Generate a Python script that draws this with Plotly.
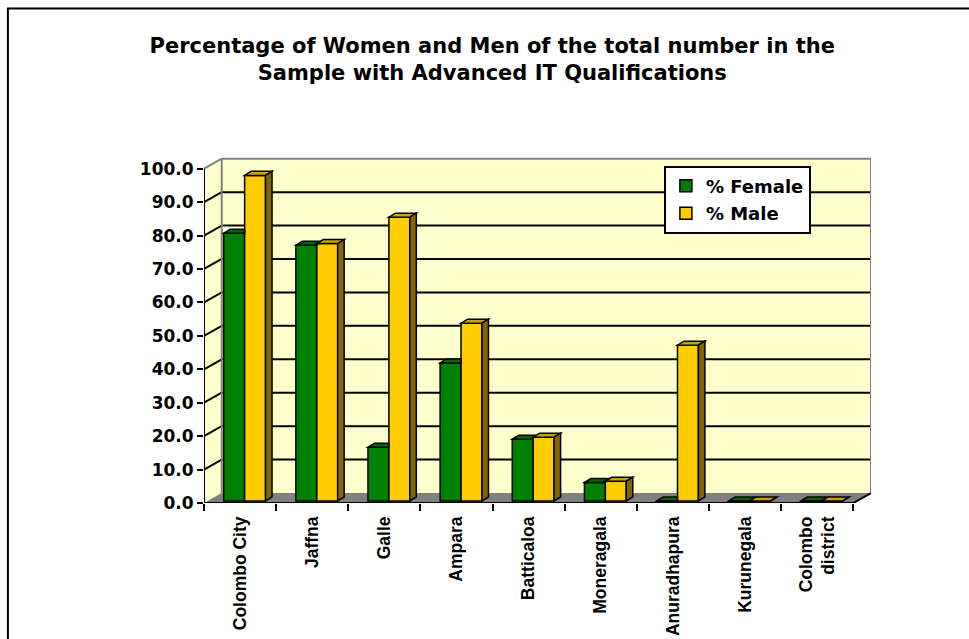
import plotly.graph_objects as go

# ---- data -------------------------------------------------------------
categories = ["Colombo City", "Jaffna", "Galle", "Ampara", "Batticaloa",
              "Moneragala", "Anuradhapura", "Kurunegala", "Colombo<br>district"]
pct_female = [80.1, 76.5, 16.1, 41.3, 18.5, 5.5, 0.0, 0.0, 0.0]
pct_male = [97.4, 77.0, 84.9, 53.2, 19.1, 5.9, 46.6, 0.0, 0.0]
y_ticks = [0, 10, 20, 30, 40, 50, 60, 70, 80, 90, 100]

# ---- styling ----------------------------------------------------------
FONT = "DejaVu Sans"
LABEL_FONT = "Liberation Sans"
GREEN, GREEN_TOP, GREEN_SIDE = "#008000", "#006600", "#004d00"
GOLD, GOLD_TOP, GOLD_SIDE = "#FFCC00", "#CCA300", "#806600"
WALL, FLOOR, EDGE = "#FFFFCC", "#808080", "#808080"

# pseudo-3D projection, in axis units (x: category index, y: value)
DX, DY = 0.2455, 2.99       # depth of floor and walls
BASE = 0.6                  # bar front faces sit a little behind the front edge
BDX, BDY = 0.09, 1.2        # depth of each bar
BW = 0.29                   # bar width
F_OFF = -0.227              # female bar offset from category centre
M_OFF = F_OFF + BW          # male bar sits right next to it
X_LO, X_HI = -0.5, len(categories) - 0.5
Y_MAX = max(y_ticks)


def path(pts):
    return "M " + " L ".join(f"{x},{y}" for x, y in pts) + " Z"


def poly(pts, fill, line="black", width=1.5, layer="above"):
    return dict(type="path", path=path(pts), xref="x", yref="y",
                fillcolor=fill, line=dict(color=line, width=width), layer=layer)


def seg(x0, y0, x1, y1, color="black", width=2, layer="below"):
    return dict(type="line", x0=x0, y0=y0, x1=x1, y1=y1, xref="x", yref="y",
                line=dict(color=color, width=width), layer=layer)


shapes = []

# walls and floor
shapes.append(poly([(X_LO, 0), (X_LO + DX, DY), (X_LO + DX, Y_MAX + DY), (X_LO, Y_MAX)],
                   WALL, line=WALL, width=0, layer="below"))
shapes.append(poly([(X_LO + DX, DY), (X_HI + DX, DY), (X_HI + DX, Y_MAX + DY), (X_LO + DX, Y_MAX + DY)],
                   WALL, line=WALL, width=0, layer="below"))
shapes.append(poly([(X_LO, 0), (X_HI, 0), (X_HI + DX, DY), (X_LO + DX, DY)],
                   FLOOR, line=FLOOR, width=0, layer="below"))

# gridlines on the side and back walls
for v in y_ticks[1:-1]:
    shapes.append(seg(X_LO, v, X_LO + DX, v + DY, width=2))
    shapes.append(seg(X_LO + DX, v + DY, X_HI + DX, v + DY, width=2))

# wall edges
shapes.append(seg(X_LO, Y_MAX, X_LO + DX, Y_MAX + DY, color=EDGE))
shapes.append(seg(X_LO + DX, DY, X_LO + DX, Y_MAX + DY, color=EDGE))
shapes.append(seg(X_LO + DX, Y_MAX + DY, X_HI + DX, Y_MAX + DY, color=EDGE))
shapes.append(seg(X_HI + DX, Y_MAX + DY, X_HI + DX, DY, color=EDGE))

# axis lines along the front of the floor
shapes.append(seg(X_LO, 0, X_LO, Y_MAX))
shapes.append(seg(X_LO, 0, X_HI, 0))
shapes.append(seg(X_HI, 0, X_HI + DX, DY))

# top and side faces of the bars
for i, (f, m) in enumerate(zip(pct_female, pct_male)):
    xf0 = i + F_OFF
    xf1 = xf0 + BW
    xm0 = i + M_OFF
    xm1 = xm0 + BW
    tf = BASE + f
    tm = BASE + m

    # female top, trimmed where the male front face hides it
    A, B, C, D = (xf0, tf), (xf1, tf), (xf1 + BDX, tf + BDY), (xf0 + BDX, tf + BDY)
    if tm <= tf:
        top_f = [A, B, C, D]
    elif tm >= tf + BDY:
        top_f = [A, B, (xf1, tf + BDY), D]
    else:
        top_f = [A, B, (xf1, tm), (xf1 + BDX * (tm - tf) / BDY, tm), C, D]
    shapes.append(poly(top_f, GREEN_TOP))

    # female side, only the part standing above the male bar
    if tf > tm:
        shapes.append(poly([(xf1, tm), (xf1, tf), (xf1 + BDX, tf + BDY), (xf1 + BDX, tm)],
                           GREEN_SIDE))

    # male top and side
    shapes.append(poly([(xm0, tm), (xm1, tm), (xm1 + BDX, tm + BDY), (xm0 + BDX, tm + BDY)],
                       GOLD_TOP))
    shapes.append(poly([(xm1, BASE), (xm1, tm), (xm1 + BDX, tm + BDY), (xm1 + BDX, BASE + BDY)],
                       GOLD_SIDE))

# outer frame of the chart
shapes.append(dict(type="rect", xref="paper", yref="paper",
                   x0=-0.294, y0=-0.45, x1=1.2, y1=1.4294,
                   line=dict(color="black", width=2), fillcolor="rgba(0,0,0,0)",
                   layer="below"))

fig = go.Figure()
fig.add_trace(go.Bar(
    x=categories, y=pct_female, base=BASE, offset=F_OFF, width=BW,
    name="% Female", legendgroup="f",
    marker=dict(color=GREEN, line=dict(color="black", width=1.5)),
))
fig.add_trace(go.Bar(
    x=categories, y=pct_male, base=BASE, offset=M_OFF, width=BW,
    name="% Male", legendgroup="m",
    marker=dict(color=GOLD, line=dict(color="black", width=1.5)),
))

fig.update_layout(
    width=969, height=639,
    margin=dict(l=204, r=98.4, t=156.6, b=136.3),
    paper_bgcolor="white", plot_bgcolor="white",
    barmode="overlay",
    shapes=shapes,
    title=dict(
        text="<b>Percentage of Women and Men of the total number in the<br>"
             "Sample with Advanced IT Qualifications</b>",
        x=0.508, xanchor="center", xref="container",
        y=1 - 53 / 639, yanchor="top", yref="container",
        font=dict(family=FONT, size=21, color="black"),
    ),
    legend=dict(
        x=0.6895, y=0.975, xanchor="left", yanchor="top",
        bgcolor="white", bordercolor="black", borderwidth=2,
        font=dict(family=FONT, size=18, color="black", weight="bold"),
        tracegroupgap=1, itemclick=False, itemdoubleclick=False,
    ),
    xaxis=dict(
        type="category", range=[X_LO, X_HI + DX], automargin=False,
        showgrid=False, zeroline=False, showline=False,
        tickson="boundaries", ticks="outside", ticklen=7, tickwidth=2,
        tickcolor="black", tickangle=-90, ticklabelstandoff=9,
        tickfont=dict(family=LABEL_FONT, size=17.5, color="black", weight="bold"),
        fixedrange=True,
    ),
    yaxis=dict(
        range=[0, 103.5], automargin=False,
        tickmode="array", tickvals=y_ticks, tickformat=".1f",
        showgrid=False, zeroline=False, showline=False,
        ticks="outside", ticklen=6, tickwidth=2, tickcolor="black",
        tickfont=dict(family=FONT, size=17, color="black", weight="bold"),
        fixedrange=True,
    ),
    showlegend=True,
)

fig.write_html("out.html")
